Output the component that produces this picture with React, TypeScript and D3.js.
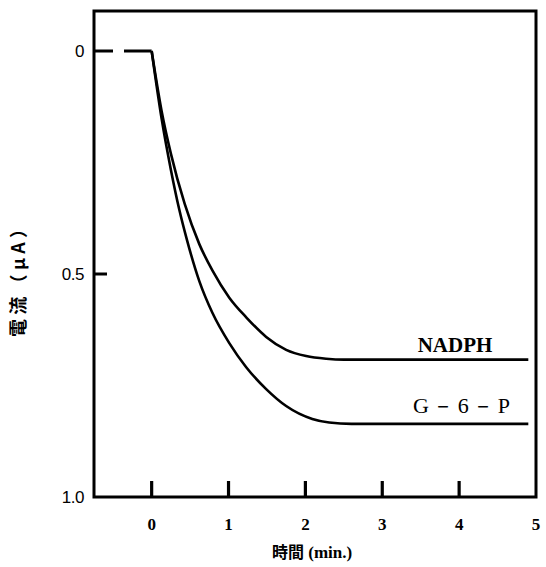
import React from "react";
import * as d3 from "d3";

const xTicks = [0, 1, 2, 3, 4, 5];
const yTicks = [0, 0.5, 1.0];
const yTickLabels = ["0", "0.5", "1.0"];
const baselineT = [-0.75, 0];
const nadphT = [0, 0.13, 0.25, 0.43, 0.62, 0.79, 1.01, 1.23, 1.49, 1.75, 2.01, 2.27, 2.5, 4.9];
const nadphV = [0, 0.135, 0.23, 0.343, 0.433, 0.492, 0.553, 0.597, 0.641, 0.67, 0.684, 0.69, 0.692, 0.692];
const g6pT = [0, 0.13, 0.25, 0.36, 0.46, 0.62, 0.79, 1.01, 1.23, 1.49, 1.75, 2.09, 2.31, 2.6, 4.9];
const g6pV = [0, 0.152, 0.266, 0.356, 0.424, 0.516, 0.587, 0.655, 0.709, 0.758, 0.796, 0.825, 0.833, 0.836, 0.836];
const seriesNames = ["NADPH", "G－6－P"];
const xLabelCjk = "時間";
const xLabelLatin = " (min.)";
const yLabel = "電流（μA）";

export default function App() {
  const W = 546, H = 567;
  const x = d3.scaleLinear().domain([-0.75, 5]).range([94, 536]);
  const y = d3.scaleLinear().domain([0, 1]).range([51, 497]);
  const top = 11;
  const line = d3.line<[number, number]>().x(d => x(d[0])).y(d => y(d[1])).curve(d3.curveMonotoneX);
  const nadph = nadphT.map((t, i) => [t, nadphV[i]] as [number, number]);
  const g6p = g6pT.map((t, i) => [t, g6pV[i]] as [number, number]);
  const base = baselineT.map(t => [t, 0] as [number, number]);
  const serifB = "'Liberation Serif', 'DejaVu Serif', serif";
  const cjk = "'Noto Sans CJK JP', sans-serif";
  return (
    <svg width={W} height={H} style={{ position: "absolute", left: 0, top: 0, background: "#fff" }}>
      <rect x={x(-0.75)} y={top} width={x(5) - x(-0.75)} height={y(1) - top} fill="none" stroke="#000" strokeWidth={3} />
      {xTicks.filter(t => t < 5).map(t => (
        <line key={"xt" + t} x1={x(t)} x2={x(t)} y1={y(1)} y2={y(1) - 16} stroke="#000" strokeWidth={3.2} />
      ))}
      {yTicks.filter(v => v === 0.5).map(v => (
        <line key={"yt" + v} x1={x(-0.75)} x2={x(-0.75) + 13} y1={y(v)} y2={y(v)} stroke="#000" strokeWidth={3} />
      ))}
      <path d={line(base) || ""} fill="none" stroke="#000" strokeWidth={3} strokeDasharray="19,11,40" />
      <path d={line(nadph) || ""} fill="none" stroke="#000" strokeWidth={2.6} />
      <path d={line(g6p) || ""} fill="none" stroke="#000" strokeWidth={2.6} />
      {xTicks.map(t => (
        <text key={"xl" + t} x={x(t)} y={530} textAnchor="middle" fontFamily={serifB} fontWeight="bold" fontSize={17}>{t}</text>
      ))}
      {yTicks.map((v, i) => (
        <text key={"yl" + v} x={84} y={y(v) + 6} textAnchor="end" fontFamily="'Liberation Sans', sans-serif" fontSize={17} letterSpacing={-0.5}>{yTickLabels[i]}</text>
      ))}
      <text x={455} y={352} textAnchor="middle" fontFamily={serifB} fontWeight="bold" fontSize={21}>{seriesNames[0]}</text>
      <text x={413} y={413} textLength={97} lengthAdjust="spacing" fontFamily={serifB} fontSize={22}>{seriesNames[1]}</text>
      <text x={272} y={558} fontWeight="bold" fontSize={16}>
        <tspan fontFamily={cjk}>{xLabelCjk}</tspan>
        <tspan fontFamily={serifB} fontSize={17}>{xLabelLatin}</tspan>
      </text>
      <text transform={`translate(25,337) rotate(-90)`} textLength={117} lengthAdjust="spacing" fontFamily={cjk} fontWeight="bold" fontSize={18}>{yLabel}</text>
    </svg>
  );
}
